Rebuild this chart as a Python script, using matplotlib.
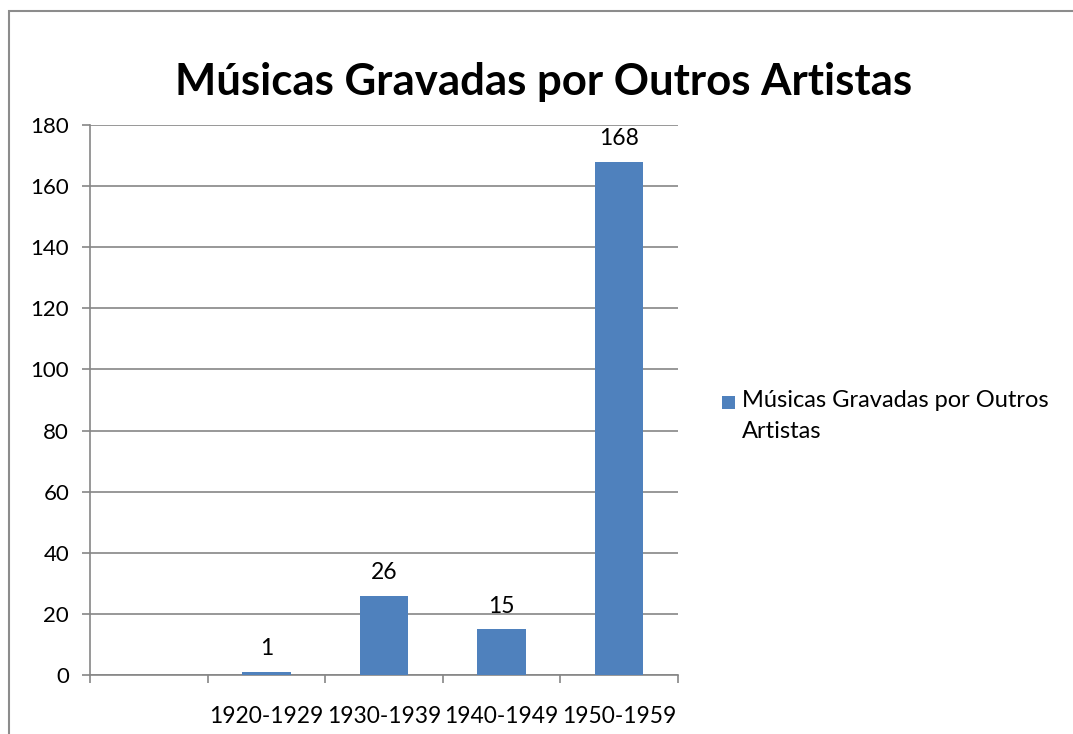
import matplotlib
matplotlib.use("Agg")
import matplotlib.pyplot as plt
from matplotlib.patches import Rectangle
import numpy as np

title = "Músicas Gravadas por Outros Artistas"
series_name = "Músicas Gravadas por Outros Artistas"
legend_label = "Músicas Gravadas por Outros\nArtistas"
categories = ["", "1920-1929", "1930-1939", "1940-1949", "1950-1959"]
values = [None, 1, 26, 15, 168]
y_ticks = [0, 20, 40, 60, 80, 100, 120, 140, 160, 180]

bar_color = "#4F81BD"
grid_color = "#868686"
font = ["Lato", "DejaVu Sans"]
plt.rcParams["font.family"] = font

W, H = 1073, 734
fig = plt.figure(figsize=(W / 100, H / 100), dpi=100)
fig.patch.set_facecolor("white")

# outer chart border (extends past right and bottom edges)
fig.add_artist(Rectangle((9 / W, -0.1), 1.2, (H - 11) / H + 0.1, transform=fig.transFigure,
                         fill=False, edgecolor="#8c8c8c", linewidth=1.5, clip_on=False))

ax = fig.add_axes([90 / W, 1 - 675 / H, (678 - 90) / W, (675 - 125) / H])
x = np.arange(len(categories))
for xi, v in zip(x, values):
    if v is None:
        continue
    ax.bar(xi, v, width=0.41, color=bar_color, zorder=3)
    ax.annotate(str(v), (xi, v), xytext=(0, 9), textcoords="offset points",
                ha="center", va="bottom", fontsize=16.5, color="black")

ax.set_xlim(-0.5, len(categories) - 0.5)
ax.set_ylim(0, 180)
ax.set_yticks(y_ticks)
ax.set_yticklabels([str(t) for t in y_ticks], fontsize=16)
ax.set_xticks(x)
ax.set_xticklabels(categories, fontsize=16.4)
ax.set_xticks(np.arange(len(categories) + 1) - 0.5, minor=True)
ax.tick_params(axis="x", which="major", length=0, pad=22)
ax.tick_params(axis="x", which="minor", length=6, color=grid_color, width=1.2)
ax.tick_params(axis="y", length=6, color=grid_color, width=1.2, pad=9)
ax.yaxis.grid(True, color=grid_color, linewidth=1.2, zorder=0)
ax.set_axisbelow(True)
for s in ["top", "right"]:
    ax.spines[s].set_visible(False)
for s in ["left", "bottom"]:
    ax.spines[s].set_color(grid_color)
    ax.spines[s].set_linewidth(1.2)

fig.text(544 / W, 1 - 82 / H, title, ha="center", va="center",
         fontsize=31.5, fontweight="bold", color="black")

# legend
fig.add_artist(Rectangle((722 / W, 1 - 409 / H), 13 / W, 13 / H, transform=fig.transFigure,
                         facecolor=bar_color, edgecolor="none"))
fig.text(742 / W, 1 - 390 / H, legend_label, ha="left", va="top", fontsize=17,
         linespacing=1.6, color="black")
fig.savefig("out.png", dpi=100, facecolor="white")
